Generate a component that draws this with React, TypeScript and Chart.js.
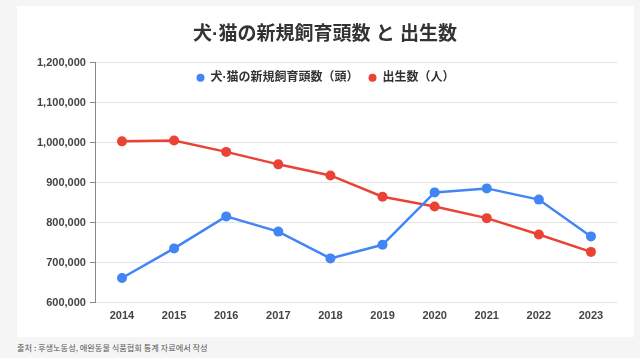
import React, { useEffect, useRef } from "react";
import { Chart, registerables } from "chart.js";

Chart.register(...registerables);

const years = ["2014", "2015", "2016", "2017", "2018", "2019", "2020", "2021", "2022", "2023"];
const petsNew = [662000, 736000, 816000, 778000, 711000, 745000, 876000, 886000, 858000, 766000];
const births = [1003609, 1005721, 977242, 946146, 918400, 865239, 840835, 811622, 770759, 727277];
const seriesLabels = ["犬·猫の新規飼育頭数（頭）", "出生数（人）"];
const titleText = "犬·猫の新規飼育頭数 と 出生数";
const sourceText = "출처 : 후생노동성, 애완동물 식품협회 통계 자료에서 작성";

const FONT = "'Liberation Sans', Arial, 'Noto Sans CJK JP', sans-serif";

const insideLegend = {
  id: "insideLegend",
  afterDraw(chart: any) {
    const ctx = chart.ctx;
    const area = chart.chartArea;
    ctx.save();
    ctx.font = `bold 12px ${FONT}`;
    ctx.textBaseline = "middle";
    const r = 4;
    const gapDotText = 6;
    const gapItems = 10;
    const items = chart.data.datasets.map((ds: any) => ({
      label: ds.label as string,
      color: ds.borderColor as string,
      w: ctx.measureText(ds.label).width,
    }));
    let total = 0;
    items.forEach((it: any, i: number) => {
      total += r * 2 + gapDotText + it.w + (i < items.length - 1 ? gapItems : 0);
    });
    let x = chart.width / 2 - total / 2;
    const y = area.top + 15;
    items.forEach((it: any) => {
      ctx.fillStyle = it.color;
      ctx.beginPath();
      ctx.arc(x + r, y, r, 0, Math.PI * 2);
      ctx.fill();
      x += r * 2 + gapDotText;
      ctx.fillStyle = "#333333";
      ctx.textAlign = "left";
      ctx.fillText(it.label, x, y);
      x += it.w + gapItems;
    });
    ctx.restore();
  },
};

export default function App() {
  const ref = useRef<HTMLCanvasElement>(null);
  useEffect(() => {
    if (!ref.current) return;
    const chart = new Chart(ref.current, {
      type: "line",
      data: {
        labels: years,
        datasets: [
          {
            label: seriesLabels[0],
            data: petsNew,
            borderColor: "#4285F4",
            backgroundColor: "#4285F4",
            borderWidth: 2.5,
            pointRadius: 5,
            pointBorderWidth: 0,
            pointBackgroundColor: "#4285F4",
            tension: 0,
          },
          {
            label: seriesLabels[1],
            data: births,
            borderColor: "#EA4335",
            backgroundColor: "#EA4335",
            borderWidth: 2.5,
            pointRadius: 5,
            pointBorderWidth: 0,
            pointBackgroundColor: "#EA4335",
            tension: 0,
          },
        ],
      },
      plugins: [insideLegend],
      options: {
        animation: false,
        responsive: false,
        maintainAspectRatio: false,
        layout: { padding: { left: 16, right: 17, top: 0, bottom: 7 } },
        plugins: {
          title: {
            display: true,
            text: titleText,
            color: "#333333",
            font: { family: FONT, size: 19, weight: "bold" },
            padding: { top: 17, bottom: 17 },
          },
          legend: { display: false },
          tooltip: { enabled: false },
        },
        scales: {
          x: {
            offset: true,
            grid: { display: false, drawTicks: false },
            border: { display: false },
            ticks: {
              color: "#444444",
              padding: 7,
              font: { family: FONT, size: 11, weight: "bold" },
            },
          },
          y: {
            min: 600000,
            max: 1200000,
            ticks: {
              stepSize: 100000,
              color: "#444444",
              padding: 4,
              font: { family: FONT, size: 11, weight: "bold" },
              callback: (v: any) => Number(v).toLocaleString("en-US"),
            },
            grid: { color: "#e2e2e2", tickColor: "#888888", tickLength: 6 },
            border: { display: true, color: "#888888", width: 1 },
          },
        },
      },
    });
    return () => chart.destroy();
  }, []);

  return (
    <div style={{ position: "fixed", left: 0, top: 0, width: 640, height: 358, background: "#f5f5f5", overflow: "hidden" }}>
      <div style={{ position: "absolute", left: 17, top: 6, width: 617, height: 331, background: "#ffffff" }}>
        <canvas ref={ref} width={617} height={331} style={{ display: "block", width: 617, height: 331 }} />
      </div>
      <div
        style={{
          position: "absolute",
          left: 17,
          top: 341,
          fontSize: 8.2,
          lineHeight: "12px",
          color: "#555555",
          fontFamily: "'Noto Sans CJK KR', sans-serif",
          whiteSpace: "nowrap",
        }}
      >
        {sourceText}
      </div>
    </div>
  );
}
